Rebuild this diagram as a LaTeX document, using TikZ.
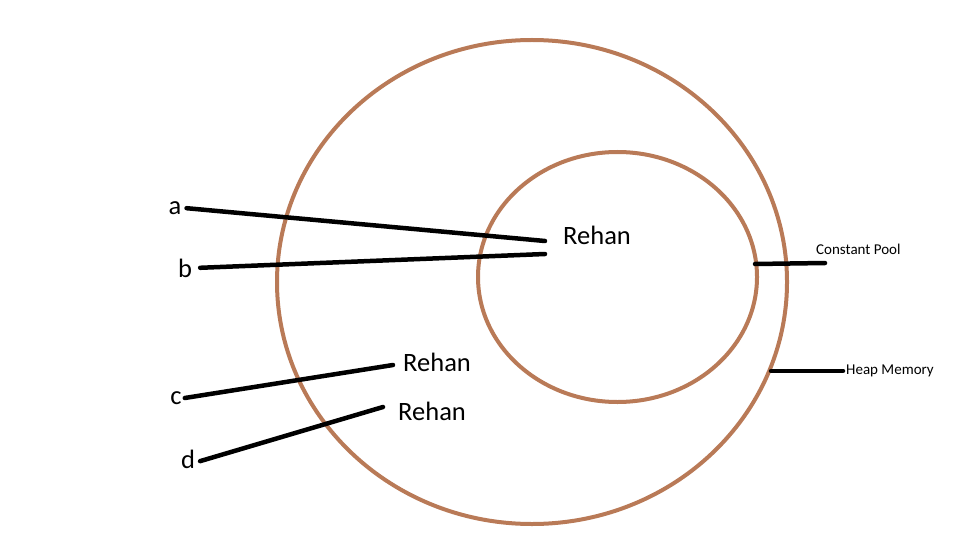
\documentclass[tikz,border=0pt]{standalone}
\usepackage{fontspec}
\setmainfont{Carlito}
\definecolor{ringbrown}{RGB}{185,122,87}

\begin{document}
\begin{tikzpicture}[x=1pt, y=-1pt]
\tikzset{ring/.style={draw=ringbrown, line width=4pt},
         pointer/.style={draw=black, line width=4.5pt, line cap=round},
         big/.style={font=\fontsize{26.5}{30}\selectfont, inner sep=3pt},
         small/.style={font=\fontsize{15}{18}\selectfont, inner sep=3pt}}
\useasboundingbox (0,0) rectangle (960,540);

% heap and constant pool
\draw[ring] (532,282) ellipse[x radius=255, y radius=242];
\draw[ring] (617.5,277) ellipse[x radius=139.5, y radius=125];

% objects
\node[big, anchor=west] (rehan) at (560,235) {Rehan};
\node[big, anchor=west] (rehanc) at (400,362) {Rehan};
\node[big, anchor=west] (rehand) at (395,411) {Rehan};

% references
\node[big] (a) at (175,208) {a};
\node[big] (b) at (185,268) {b};
\node[big] (c) at (176,398) {c};
\node[big] (d) at (188,459) {d};

\coordinate (ra) at (545,241);
\coordinate (rb) at (545,254);
\coordinate (rc) at (393,365);
\coordinate (rd) at (383,407);

\draw[pointer, shorten <=2pt] (a.east) -- (ra);
\draw[pointer, shorten <=5pt] (b.east) -- (rb);
\draw[pointer] (c.east) -- (rc);
\draw[pointer, shorten <=2pt] (d.-15) -- (rd);

% area labels
\node[small, anchor=west] (cp) at (813,249) {Constant Pool};
\node[small, anchor=west] (hm) at (843,371) {Heap Memory};

\coordinate (cpl) at (755,264);
\coordinate (cpr) at (825,263);
\coordinate (hml) at (771,371);

\draw[pointer] (cpl) -- (cpr);
\draw[pointer] (hml) -- (hm.west);
\end{tikzpicture}
\end{document}
